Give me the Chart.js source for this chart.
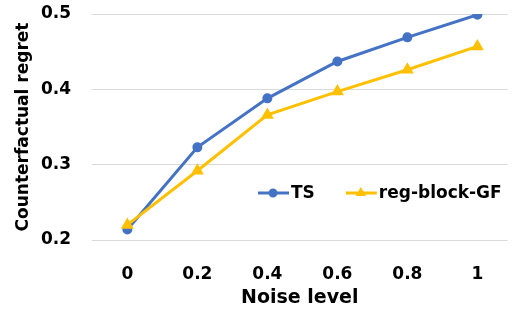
<!DOCTYPE html>
<html>
<head>
<meta charset="utf-8">
<script src="https://cdn.jsdelivr.net/npm/chart.js@4/dist/chart.umd.min.js"></script>
<style>
  html, body { margin: 0; padding: 0; background: #fff; }
  #wrap { width: 515px; height: 316px; position: relative; }
</style>
</head>
<body>
<div id="wrap"><canvas id="regretChart"></canvas></div>
<script>
const noiseLevels = [0, 0.2, 0.4, 0.6, 0.8, 1];
const tsValues = [0.214, 0.323, 0.388, 0.437, 0.469, 0.499];
const regBlockValues = [0.220, 0.292, 0.366, 0.397, 0.426, 0.457];
const yTicks = [0.2, 0.3, 0.4, 0.5];

const blue = '#4472C4';
const gold = '#FFC000';
const fontFamily = '"DejaVu Sans", sans-serif';

// legend drawn inside the plot area, line + marker like the office style
const insideLegend = {
  id: 'insideLegend',
  afterDraw(chart) {
    const ctx = chart.ctx;
    const area = chart.chartArea;
    let x = area.left + 166;
    const y = area.top + 179;
    ctx.save();
    ctx.font = 'bold 17px ' + fontFamily;
    ctx.textBaseline = 'middle';
    ctx.fillStyle = '#000';
    chart.data.datasets.forEach(ds => {
      ctx.strokeStyle = ds.borderColor;
      ctx.lineWidth = 3;
      ctx.beginPath();
      ctx.moveTo(x, y);
      ctx.lineTo(x + 31, y);
      ctx.stroke();
      ctx.fillStyle = ds.borderColor;
      ctx.strokeStyle = ds.borderColor;
      Chart.helpers.drawPoint(ctx, { pointStyle: ds.pointStyle, radius: 3, borderWidth: 1, rotation: 0 }, x + 15, y);
      ctx.fillStyle = '#000';
      ctx.fillText(ds.label, x + 33, y + 1);
      x += 33 + ctx.measureText(ds.label).width + 31;
    });
    ctx.restore();
  }
};

new Chart(document.getElementById('regretChart'), {
  type: 'line',
  data: {
    datasets: [
      {
        label: 'TS',
        data: noiseLevels.map((n, i) => ({ x: n, y: tsValues[i] })),
        borderColor: blue,
        backgroundColor: blue,
        borderWidth: 3,
        pointStyle: 'circle',
        pointRadius: 3.5,
        order: 1
      },
      {
        label: 'reg-block-GF',
        data: noiseLevels.map((n, i) => ({ x: n, y: regBlockValues[i] })),
        borderColor: gold,
        backgroundColor: gold,
        borderWidth: 3,
        pointStyle: 'triangle',
        pointRadius: 4.5,
        order: 0
      }
    ]
  },
  options: {
    responsive: true,
    maintainAspectRatio: false,
    animation: false,
    layout: { padding: { top: 14, right: 0, left: 0, bottom: 0 } },
    plugins: {
      legend: { display: false },
      tooltip: { enabled: false }
    },
    scales: {
      x: {
        type: 'linear',
        min: -0.101,
        max: 1.086,
        afterBuildTicks: scale => { scale.ticks = noiseLevels.map(v => ({ value: v })); },
        afterFit: scale => { scale.height = 76; },
        grid: { display: false, drawTicks: false },
        border: { display: false },
        ticks: {
          padding: 24,
          color: '#000',
          font: { family: fontFamily, size: 17, weight: 'bold' },
          callback: v => String(v)
        },
        title: {
          display: true,
          text: 'Noise level',
          color: '#000',
          font: { family: fontFamily, size: 19, weight: 'bold' },
          padding: { top: 0, bottom: 7 }
        }
      },
      y: {
        min: 0.2,
        max: 0.5,
        afterBuildTicks: scale => { scale.ticks = yTicks.map(v => ({ value: v })); },
        afterFit: scale => {
          scale.width = 92;
          scale.paddingTop = 0;
          scale.paddingBottom = 0;
        },
        grid: { color: '#d9d9d9', lineWidth: 1, drawTicks: false },
        border: { display: false },
        ticks: {
          padding: 21,
          color: '#000',
          font: { family: fontFamily, size: 17, weight: 'bold' },
          callback: v => v.toFixed(1)
        },
        title: {
          display: true,
          text: 'Counterfactual regret',
          color: '#000',
          font: { family: fontFamily, size: 17, weight: 'bold' },
          padding: { top: 13, bottom: 0 }
        }
      }
    }
  },
  plugins: [insideLegend]
});
</script>
</body>
</html>
